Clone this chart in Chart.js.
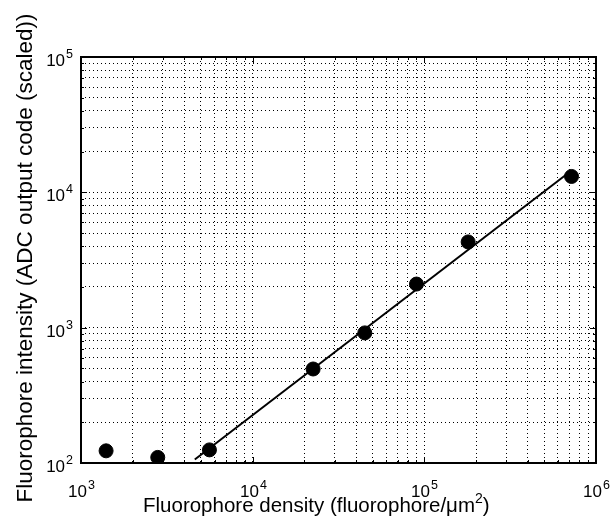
<!DOCTYPE html>
<html>
<head>
<meta charset="utf-8">
<script src="https://cdn.jsdelivr.net/npm/chart.js@4"></script>
<style>
  html, body { margin: 0; padding: 0; background: #fff; }
  #wrap { width: 610px; height: 518px; }
</style>
</head>
<body>
<div id="wrap"><canvas id="chart" width="610" height="518"></canvas></div>
<script>
// measured points
const density = [1400, 2800, 5600, 22500, 45000, 90000, 180000, 720000];
const intensity = [123, 110, 125, 495, 915, 2100, 4300, 13100];
// fitted line ends
const fitX = [4600, 705000];
const fitY = [106, 14200];
// decades shown on each axis
const xTicks = [1e3, 1e4, 1e5, 1e6];
const yTicks = [1e2, 1e3, 1e4, 1e5];
const xTitle = ['Fluorophore density (fluorophore/\u03BCm', '2', ')'];
const yTitle = 'Fluorophore intensity (ADC output code (scaled))';

const FONT = '"Liberation Sans", Arial, sans-serif';

function logTicks(min, max) {
    const out = [];
    for (let e = Math.log10(min); e < Math.log10(max); e++) {
        for (let m = 1; m < 10; m++) out.push({ value: m * Math.pow(10, e) });
    }
    out.push({ value: max });
    return out;
}

function isMajor(v) {
    const l = Math.log10(v);
    return Math.abs(l - Math.round(l)) < 1e-9;
}

// "10" with a raised exponent, drawn from a left x and a baseline y
function powerLabel(ctx, exp, x, y) {
    ctx.font = '17px ' + FONT;
    const w10 = ctx.measureText('10').width;
    ctx.fillText('10', x, y);
    ctx.font = '12.5px ' + FONT;
    ctx.fillText(String(exp), x + w10 + 1, y - 8);
}

function powerWidth(ctx, exp) {
    ctx.font = '17px ' + FONT;
    const a = ctx.measureText('10').width;
    ctx.font = '12.5px ' + FONT;
    return a + 1 + ctx.measureText(String(exp)).width;
}

const frame = {
    id: 'frame',
    afterDraw(chart) {
        const { ctx, chartArea: a, scales } = chart;
        ctx.save();
        ctx.strokeStyle = '#000';
        ctx.fillStyle = '#000';
        ctx.lineWidth = 1;
        ctx.textAlign = 'left';
        ctx.textBaseline = 'alphabetic';
        // inward tick marks + labels
        scales.x.ticks.forEach(t => {
            const px = Math.round(scales.x.getPixelForValue(t.value)) + 0.5;
            const len = isMajor(t.value) ? 6 : 3;
            ctx.beginPath();
            ctx.moveTo(px, a.bottom); ctx.lineTo(px, a.bottom - len);
            ctx.moveTo(px, a.top); ctx.lineTo(px, a.top + len);
            ctx.stroke();
            if (isMajor(t.value)) {
                const e = Math.round(Math.log10(t.value));
                powerLabel(ctx, e, px - powerWidth(ctx, e) / 2, a.bottom + 34);
            }
        });
        scales.y.ticks.forEach(t => {
            const py = Math.round(scales.y.getPixelForValue(t.value)) + 0.5;
            const len = isMajor(t.value) ? 6 : 3;
            ctx.beginPath();
            ctx.moveTo(a.left, py); ctx.lineTo(a.left + len, py);
            ctx.moveTo(a.right, py); ctx.lineTo(a.right - len, py);
            ctx.stroke();
            if (isMajor(t.value)) {
                const e = Math.round(Math.log10(t.value));
                powerLabel(ctx, e, a.left - 8 - powerWidth(ctx, e), py + 8);
            }
        });
        ctx.lineWidth = 2;
        ctx.strokeRect(a.left, a.top, a.right - a.left, a.bottom - a.top);

        // x axis title with superscript
        let x = 143;
        const by = 512;
        ctx.font = '20.5px ' + FONT;
        ctx.fillText(xTitle[0], x, by);
        x += ctx.measureText(xTitle[0]).width;
        ctx.font = '14px ' + FONT;
        ctx.fillText(xTitle[1], x, by - 9);
        x += ctx.measureText(xTitle[1]).width;
        ctx.font = '20.5px ' + FONT;
        ctx.fillText(xTitle[2], x, by);

        // y axis title, rotated
        ctx.translate(32, 258);
        ctx.rotate(-Math.PI / 2);
        ctx.textAlign = 'center';
        ctx.font = '22.5px ' + FONT;
        ctx.fillText(yTitle, 0, 0);
        ctx.restore();
    }
};

new Chart(document.getElementById('chart'), {
    type: 'scatter',
    data: {
        datasets: [{
            data: density.map((x, i) => ({ x: x, y: intensity[i] })),
            backgroundColor: '#000',
            borderColor: '#000',
            pointRadius: 7,
            showLine: false
        }, {
            data: fitX.map((x, i) => ({ x: x, y: fitY[i] })),
            borderColor: '#000',
            borderWidth: 2,
            pointRadius: 0,
            showLine: true,
            fill: false
        }]
    },
    options: {
        responsive: false,
        animation: false,
        layout: { padding: { top: 57, right: 14, left: 0, bottom: 0 } },
        plugins: { legend: { display: false }, tooltip: { enabled: false } },
        scales: {
            x: {
                type: 'logarithmic',
                min: xTicks[0], max: xTicks[xTicks.length - 1],
                afterBuildTicks: s => { s.ticks = logTicks(xTicks[0], xTicks[xTicks.length - 1]); },
                afterFit: s => { s.height = 55; },
                grid: { color: '#000', lineWidth: 1, drawTicks: false },
                border: { display: false, dash: [1, 3] },
                ticks: { display: false, autoSkip: false }
            },
            y: {
                type: 'logarithmic',
                min: yTicks[0], max: yTicks[yTicks.length - 1],
                afterBuildTicks: s => { s.ticks = logTicks(yTicks[0], yTicks[yTicks.length - 1]); },
                afterFit: s => { s.width = 81; },
                grid: { color: '#000', lineWidth: 1, drawTicks: false },
                border: { display: false, dash: [1, 3] },
                ticks: { display: false, autoSkip: false }
            }
        }
    },
    plugins: [frame]
});
</script>
</body>
</html>
